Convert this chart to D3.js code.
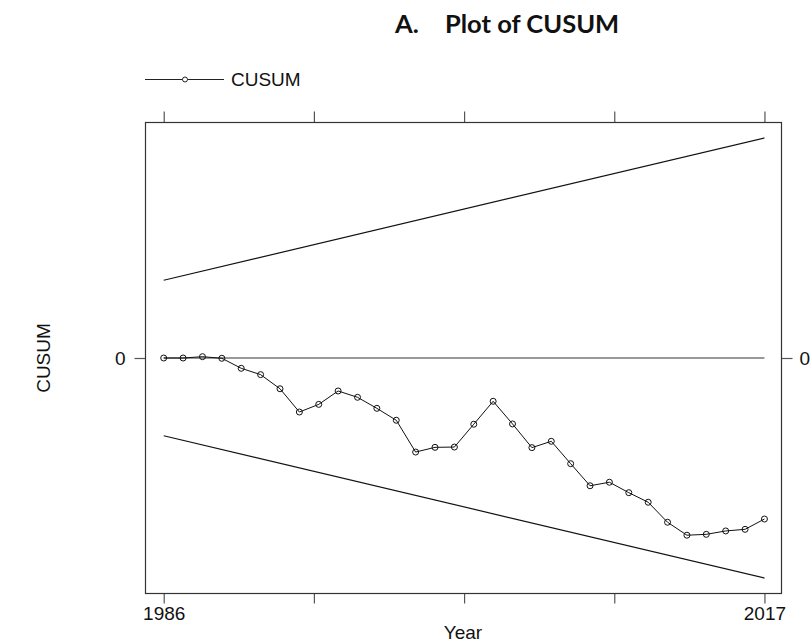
<!DOCTYPE html>
<html><head><meta charset="utf-8">
<script src="https://cdn.jsdelivr.net/npm/d3@7"></script>
<style>body{margin:0;background:#fff}svg{display:block}</style>
</head><body>
<script>
const years = d3.range(1986, 2018);
const cusum = [0, 0, 0.09, -0.02, -0.70, -1.13, -2.09, -3.67, -3.15, -2.24, -2.67, -3.42, -4.23, -6.39, -6.07, -6.05,
  -4.50, -2.94, -4.48, -6.09, -5.66, -7.18, -8.68, -8.44, -9.15, -9.80, -11.16, -12.04, -11.98, -11.75, -11.64, -10.94];
const boundYears = [1986, 2017];
const upperBound = [5.28, 14.95];
const lowerBound = [-5.28, -14.95];
const xTickValues = [1986, 1993.75, 2001.5, 2009.25, 2017];
const xTickLabels = ["1986", "", "", "", "2017"];
const yTickValues = [0];
const yTickLabels = ["0"];

const W = 812, H = 644;
const L = 145.5, R = 781.5, T = 122.5, B = 593.5;
const svg = d3.select("body").append("svg").attr("width", W).attr("height", H);
const x = d3.scaleLinear().domain([1985.06, 2017.88]).range([L, R]);
const y = d3.scaleLinear().domain([-16, 16]).range([B, T]);

const font = "'Liberation Sans', Arial, sans-serif";
const fs = 19;

// axes
const fmtX = (d, i) => xTickLabels[i];
const fmtY = (d, i) => yTickLabels[i];
const axB = svg.append("g").attr("transform", `translate(0,${B})`)
  .call(d3.axisBottom(x).tickValues(xTickValues).tickFormat(fmtX).tickSize(10).tickSizeOuter(0).tickPadding(3));
const axT = svg.append("g").attr("transform", `translate(0,${T})`)
  .call(d3.axisTop(x).tickValues(xTickValues).tickFormat("").tickSize(11).tickSizeOuter(0));
const axL = svg.append("g").attr("transform", `translate(${L},0)`)
  .call(d3.axisLeft(y).tickValues(yTickValues).tickFormat(fmtY).tickSize(11).tickSizeOuter(0).tickPadding(9));
const axR = svg.append("g").attr("transform", `translate(${R},0)`)
  .call(d3.axisRight(y).tickValues(yTickValues).tickFormat(fmtY).tickSize(11).tickSizeOuter(0).tickPadding(7));
[axB, axT, axL, axR].forEach(g => {
  g.select(".domain").remove();
  g.selectAll(".tick line").attr("stroke", "#555").attr("stroke-width", 1.2);
  g.selectAll("text").attr("font-family", font).attr("font-size", fs).attr("fill", "#111");
});

// box
svg.append("rect").attr("x", L).attr("y", T).attr("width", R - L).attr("height", B - T)
  .attr("fill", "none").attr("stroke", "#333").attr("stroke-width", 1.2);

// zero line
svg.append("line").attr("x1", x(1986)).attr("x2", x(2017)).attr("y1", y(0)).attr("y2", y(0))
  .attr("stroke", "#333").attr("stroke-width", 1);

// bounds
const bline = d3.line().x((d, i) => x(boundYears[i])).y(d => y(d));
svg.append("path").attr("d", bline(upperBound)).attr("fill", "none").attr("stroke", "#111").attr("stroke-width", 1.2);
svg.append("path").attr("d", bline(lowerBound)).attr("fill", "none").attr("stroke", "#111").attr("stroke-width", 1.2);

// cusum
const line = d3.line().x((d, i) => x(years[i])).y(d => y(d));
svg.append("path").attr("d", line(cusum)).attr("fill", "none").attr("stroke", "#111").attr("stroke-width", 1);
svg.append("g").selectAll("circle").data(cusum).join("circle")
  .attr("cx", (d, i) => x(years[i])).attr("cy", d => y(d)).attr("r", 3)
  .attr("fill", "none").attr("stroke", "#111").attr("stroke-width", 1);

// legend
svg.append("line").attr("x1", 145).attr("x2", 224).attr("y1", 79.5).attr("y2", 79.5).attr("stroke", "#222").attr("stroke-width", 1);
svg.append("circle").attr("cx", 185).attr("cy", 79.5).attr("r", 2.5).attr("fill", "#fff").attr("stroke", "#222");
svg.append("text").attr("x", 231).attr("y", 86).attr("font-family", font).attr("font-size", fs).attr("fill", "#111").text("CUSUM");

// axis titles
svg.append("text").attr("x", (L + R) / 2 - 0.5).attr("y", 639).attr("text-anchor", "middle")
  .attr("font-family", font).attr("font-size", fs).attr("fill", "#111").text("Year");
svg.append("text").attr("transform", `translate(50,${y(0)}) rotate(-90)`).attr("text-anchor", "middle")
  .attr("font-family", font).attr("font-size", fs).attr("fill", "#111").text("CUSUM");

// title
const t = svg.append("text").attr("y", 33).attr("font-family", "Lato, 'Open Sans', sans-serif")
  .attr("font-weight", 700).attr("font-size", 25.5).attr("fill", "#111");
t.append("tspan").attr("x", 395).text("A.");
t.append("tspan").attr("x", 445).text("Plot of CUSUM");
</script>
</body></html>
